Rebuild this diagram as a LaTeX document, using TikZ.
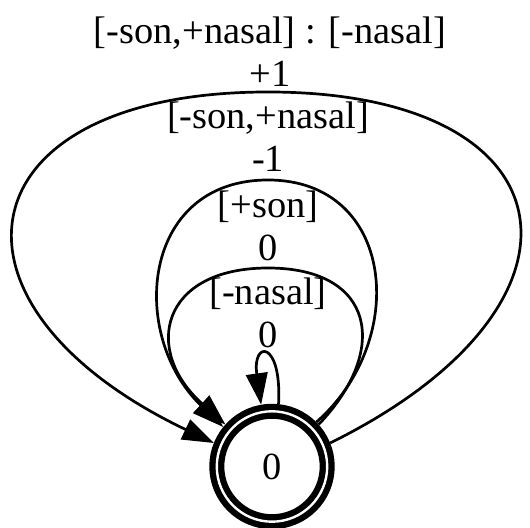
\documentclass[tikz,border=0pt]{standalone}
\usepackage{fontspec}
\setmainfont{Liberation Serif}
\usetikzlibrary{arrows.meta}
\tikzset{
  accbox/.style={
    circle, draw=black, line width=2.1pt,
    double, double distance=0.8pt,
    minimum size=36.8pt, inner sep=0pt, outer sep=2.5pt,
    font=\fontsize{12.8}{14.3}\selectfont
  },
  lbl/.style={
    align=center, inner sep=0pt,
    font=\fontsize{12.8}{14.3}\selectfont
  },
  arr/.style={-{Triangle[length=10.5pt, width=7.2pt]}, line width=0.9pt, draw=black}
}
\begin{document}
\begin{tikzpicture}[x=0.3333pt, y=-0.3333pt]
\useasboundingbox (0,0) rectangle (530,528);

% ── State ───────────────────────────────────────────────────
\node[accbox] (s0) at (272,466.5) {0};

% ── Edge labels ─────────────────────────────────────────────
\node[lbl] (l1) at (270,52)  {[-son,+nasal] : [-nasal]\\+1};
\node[lbl] (l2) at (268,137) {[-son,+nasal]\\-1};
\node[lbl] (l3) at (268,226) {[+son]\\0};
\node[lbl] (l4) at (268,313) {[-nasal]\\0};

% ── Self loops ──────────────────────────────────────────────
\draw[arr] (s0.22) .. controls (610,305) and (576,92) .. (268,92)
                   .. controls (-40,92) and (-75,305) .. (s0.158);
\draw[arr] (s0.45) .. controls (410,340) and (395,180) .. (268,180)
                   .. controls (141,180) and (128,335) .. (s0.141);
\draw[arr] (s0.42) .. controls (390,350) and (375,268) .. (268,268)
                   .. controls (161,268) and (142,350) .. (s0.138);
\draw[arr] (s0.84) .. controls (282,340) and (252,340) .. (s0.100);

\end{tikzpicture}
\end{document}
